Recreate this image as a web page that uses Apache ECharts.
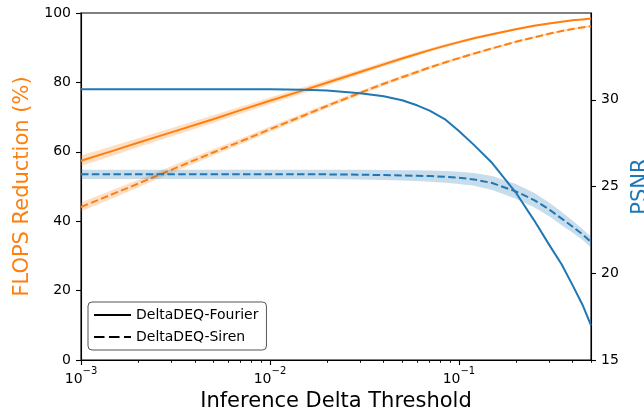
<!DOCTYPE html>
<html>
<head>
<meta charset="utf-8">
<script src="https://cdn.jsdelivr.net/npm/echarts@6/dist/echarts.min.js"></script>
<style>
  html, body { margin: 0; padding: 0; background: #fff; }
  #chart { width: 644px; height: 418px; }
</style>
</head>
<body>
<div id="chart"></div>
<script>
// data
var thresholds = [0.001, 0.0015, 0.002, 0.003, 0.005, 0.007, 0.01, 0.015, 0.02, 0.03, 0.04, 0.05, 0.06,
  0.07, 0.085, 0.1, 0.12, 0.15, 0.2, 0.25, 0.3, 0.35, 0.4, 0.45, 0.5]
var flopsFourier = [57.4, 60.4, 62.6, 65.6, 69.4, 72.0, 74.7, 77.7, 79.9, 83.0, 85.2, 86.9, 88.2,
  89.3, 90.6, 91.6, 92.7, 93.9, 95.3, 96.3, 97.0, 97.5, 97.9, 98.15, 98.4]
var flopsFourierStd = [1.5, 1.4, 1.3, 1.2, 1.1, 1.0, 0.95, 0.9, 0.8, 0.7, 0.65, 0.6, 0.55,
  0.5, 0.45, 0.4, 0.38, 0.35, 0.3, 0.28, 0.25, 0.22, 0.2, 0.2, 0.2]
var flopsSiren = [44.1, 48.0, 50.8, 54.8, 59.8, 63.0, 66.5, 70.4, 73.2, 77.0, 79.6, 81.5, 83.0,
  84.3, 85.8, 87.0, 88.3, 89.8, 91.7, 93.0, 94.0, 94.8, 95.4, 95.85, 96.2]
var flopsSirenStd = [1.3, 1.2, 1.1, 1.0, 0.9, 0.85, 0.8, 0.7, 0.65, 0.6, 0.55, 0.5, 0.48,
  0.45, 0.42, 0.4, 0.38, 0.35, 0.3, 0.3, 0.3, 0.3, 0.3, 0.3, 0.3]
var psnrFourier = [30.6, 30.6, 30.6, 30.6, 30.6, 30.6, 30.6, 30.57, 30.53, 30.38, 30.2, 29.97, 29.68,
  29.37, 28.85, 28.2, 27.4, 26.35, 24.65, 23.05, 21.65, 20.5, 19.3, 18.2, 17.0]
var psnrSiren = [25.7, 25.7, 25.7, 25.7, 25.7, 25.7, 25.7, 25.7, 25.7, 25.68, 25.66, 25.64, 25.62,
  25.6, 25.56, 25.5, 25.41, 25.2, 24.72, 24.22, 23.68, 23.15, 22.68, 22.25, 21.8]
var psnrSirenStd = [0.27, 0.27, 0.27, 0.27, 0.27, 0.27, 0.27, 0.27, 0.27, 0.28, 0.29, 0.3, 0.31,
  0.32, 0.34, 0.35, 0.37, 0.4, 0.42, 0.42, 0.4, 0.38, 0.35, 0.32, 0.3]
var xMinorTicks = [0.002, 0.003, 0.004, 0.005, 0.006, 0.007, 0.008, 0.009,
  0.02, 0.03, 0.04, 0.05, 0.06, 0.07, 0.08, 0.09, 0.2, 0.3, 0.4, 0.5]
var flopsTicks = [0, 20, 40, 60, 80, 100]
var psnrTicks = [15, 20, 25, 30]

var ORANGE = '#ff7f0e'
var BLUE = '#1f77b4'
var FONT = 'DejaVu Sans'
var DASH = [7.5, 3.3]

function pairs(vals) {
  return thresholds.map(function (x, i) { return [x, vals[i]] })
}

function meanLine(name, vals, color, yIdx, dashed, z) {
  return {
    name: name,
    type: 'line',
    xAxisIndex: 0,
    yAxisIndex: yIdx,
    data: pairs(vals),
    symbol: 'none',
    smooth: false,
    z: z,
    lineStyle: { color: color, width: 2, type: dashed ? DASH : 'solid', join: 'round' },
    silent: true
  }
}

// shaded spread between mean-std and mean+std, as one polygon
function band(vals, std, color, yIdx, z) {
  return {
    type: 'custom',
    xAxisIndex: 0,
    yAxisIndex: yIdx,
    z: z,
    silent: true,
    data: [[thresholds[0], vals[0]]],
    renderItem: function (params, api) {
      var upper = [], lower = []
      for (var i = 0; i < thresholds.length; i++) {
        upper.push(api.coord([thresholds[i], vals[i] + std[i]]))
        lower.unshift(api.coord([thresholds[i], vals[i] - std[i]]))
      }
      return {
        type: 'polygon',
        shape: { points: upper.concat(lower) },
        style: { fill: color, opacity: 0.25, stroke: null }
      }
    }
  }
}

var myChart = echarts.init(document.getElementById('chart'))

var series = [
  band(flopsFourier, flopsFourierStd, ORANGE, 0, 1),
  band(flopsSiren, flopsSirenStd, ORANGE, 0, 1),
  meanLine('ff-mean', flopsFourier, ORANGE, 0, false, 2),
  meanLine('fs-mean', flopsSiren, ORANGE, 0, true, 2),
  band(psnrSiren, psnrSirenStd, BLUE, 1, 3),
  meanLine('pf-mean', psnrFourier, BLUE, 1, false, 4),
  meanLine('ps-mean', psnrSiren, BLUE, 1, true, 4),
  // legend-only entries (black)
  { name: 'DeltaDEQ-Fourier', type: 'line', data: [], symbol: 'none',
    itemStyle: { color: '#000' }, lineStyle: { color: '#000', width: 3 } },
  { name: 'DeltaDEQ-Siren', type: 'line', data: [], symbol: 'none',
    itemStyle: { color: '#000' }, lineStyle: { color: '#000', width: 3, type: [10.5, 4.5] } }
]

var option = {
  animation: false,
  backgroundColor: '#fff',
  textStyle: { fontFamily: FONT },
  grid: {
    show: true, left: 81, right: 53, top: 13, bottom: 58,
    borderColor: '#000', borderWidth: 1.1,
    containLabel: false, outerBoundsMode: 'none'
  },
  legend: {
    data: ['DeltaDEQ-Fourier', 'DeltaDEQ-Siren'],
    orient: 'vertical',
    left: 88, top: 302,
    padding: [6, 8, 6, 5],
    itemWidth: 37, itemHeight: 14, itemGap: 8,
    backgroundColor: '#fff',
    borderColor: '#555', borderWidth: 1, borderRadius: 4,
    itemStyle: { opacity: 0 },
    textStyle: { fontFamily: FONT, fontSize: 14, color: '#000' }
  },
  xAxis: [{
    type: 'log',
    logBase: 10,
    min: 0.001,
    max: 0.5,
    name: 'Inference Delta Threshold',
    nameLocation: 'middle',
    nameGap: 31,
    nameTextStyle: { fontFamily: FONT, fontSize: 21, color: '#000' },
    axisLine: { show: true, lineStyle: { color: '#000', width: 1.1 } },
    axisTick: { show: true, inside: false, length: 5, lineStyle: { color: '#000', width: 1.1 } },
    splitLine: { show: false },
    axisLabel: {
      margin: 6,
      showMaxLabel: false,
      formatter: function (v) {
        var e = Math.round(Math.log10(v))
        return '{b|10}{s|\u2212' + Math.abs(e) + '}'
      },
      rich: {
        b: { fontFamily: FONT, fontSize: 14, color: '#000', verticalAlign: 'bottom', lineHeight: 20 },
        s: { fontFamily: FONT, fontSize: 10, color: '#000', verticalAlign: 'top', lineHeight: 20 }
      }
    }
  }, {
    // minor ticks, drawn in log10 space
    type: 'value',
    position: 'bottom',
    min: -3,
    max: Math.log10(0.5),
    axisLine: { show: false },
    axisLabel: { show: false },
    splitLine: { show: false },
    axisTick: {
      show: true, length: 2.8,
      customValues: xMinorTicks.map(function (v) { return Math.log10(v) }),
      lineStyle: { color: '#000', width: 0.9 }
    }
  }],
  yAxis: [{
    type: 'value',
    position: 'left',
    min: 0, max: 100, interval: 20,
    name: 'FLOPS Reduction (%)',
    nameLocation: 'middle',
    nameGap: 46,
    nameTextStyle: { fontFamily: FONT, fontSize: 21, color: ORANGE },
    axisLine: { show: true, lineStyle: { color: '#000', width: 1.1 } },
    axisTick: { show: true, length: 5, lineStyle: { color: '#000', width: 1.1 },
      customValues: flopsTicks },
    axisLabel: { margin: 10, fontSize: 14, color: '#000', fontFamily: FONT, customValues: flopsTicks },
    splitLine: { show: false }
  }, {
    type: 'value',
    position: 'right',
    min: 15, max: 35, interval: 5,
    name: 'PSNR',
    nameLocation: 'middle',
    nameGap: 38,
    nameTextStyle: { fontFamily: FONT, fontSize: 21, color: BLUE },
    axisLine: { show: true, lineStyle: { color: '#000', width: 1.1 } },
    axisTick: { show: true, length: 5, lineStyle: { color: '#000', width: 1.1 },
      customValues: psnrTicks },
    axisLabel: { margin: 10, fontSize: 14, color: '#000', fontFamily: FONT, customValues: psnrTicks },
    splitLine: { show: false }
  }],
  series: series
}

myChart.setOption(option)

window.addEventListener('resize', function () {
  myChart.resize()
})
</script>
</body>
</html>
